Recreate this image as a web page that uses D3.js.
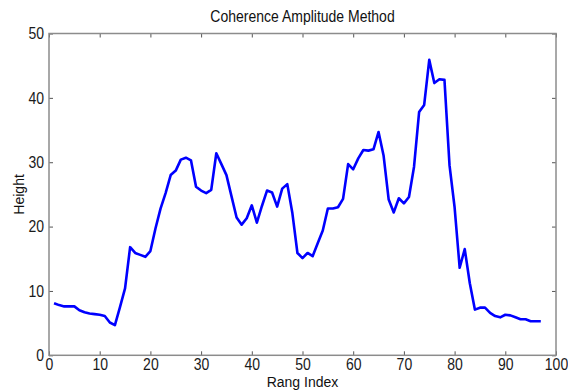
<!DOCTYPE html>
<html><head><meta charset="utf-8">
<script src="https://cdn.jsdelivr.net/npm/d3@7"></script>
<style>body{margin:0;background:#fff}svg{display:block}</style>
</head><body>
<script>
const title = "Coherence Amplitude Method";
const xLabel = "Rang Index";
const yLabel = "Height";
const xTicks = [0,10,20,30,40,50,60,70,80,90,100];
const yTicks = [0,10,20,30,40,50];
const index = d3.range(1, 98);
const height = [8.1,7.8,7.6,7.6,7.6,7.0,6.7,6.5,6.4,6.3,
6.1,5.1,4.7,7.5,10.4,16.8,15.9,15.6,15.3,16.2,
19.7,22.8,25.2,28.0,28.7,30.4,30.7,30.3,26.2,25.6,
25.2,25.7,31.4,29.7,28.0,24.7,21.4,20.3,21.3,23.3,
20.6,23.2,25.6,25.3,23.1,25.9,26.6,22.1,15.9,15.1,
15.9,15.4,17.4,19.4,22.8,22.8,23.0,24.3,29.7,28.9,
30.6,31.9,31.8,32.0,34.7,31.0,24.2,22.2,24.4,23.6,
24.6,29.3,37.8,38.9,45.9,42.3,42.9,42.8,29.5,23.0,
13.6,16.5,11.2,7.1,7.4,7.4,6.6,6.1,5.9,6.3,
6.2,5.9,5.6,5.6,5.3,5.3,5.3];

const W = 568, H = 391;
const m = {left:49, right:12, top:33.5, bottom:35.7};
const svg = d3.select("body").append("svg").attr("width", W).attr("height", H);
const x = d3.scaleLinear().domain([0,100]).range([m.left, W - m.right]);
const y = d3.scaleLinear().domain([0,50]).range([H - m.bottom, m.top]);

const axisColor = "#8c8c8c";
const font = "Liberation Sans, Arial, sans-serif";
const stretch = 1.15;

function style(g){
  g.select(".domain").remove();
  g.selectAll(".tick line").attr("stroke", "#555").attr("stroke-width", 1);
  g.selectAll(".tick text").attr("fill", "#1a1a1a").attr("font-size", 14).attr("font-family", font)
    .attr("transform", `scale(1,${stretch})`);
}
// bottom
svg.append("g").attr("transform", `translate(0,${y(0)})`)
  .call(d3.axisBottom(x).tickValues(xTicks).tickSize(-4).tickPadding(3).tickFormat(d3.format("d")))
  .call(style);
// top
svg.append("g").attr("transform", `translate(0,${y(50)})`)
  .call(d3.axisTop(x).tickValues(xTicks).tickSize(-4).tickFormat(""))
  .call(style);
// left
svg.append("g").attr("transform", `translate(${x(0)},0)`)
  .call(d3.axisLeft(y).tickValues(yTicks).tickSize(-4).tickPadding(5).tickFormat(d3.format("d")))
  .call(style);
// right
svg.append("g").attr("transform", `translate(${x(100)},0)`)
  .call(d3.axisRight(y).tickValues(yTicks).tickSize(-4).tickFormat(""))
  .call(style);

svg.append("rect").attr("x", x(0)).attr("y", y(50))
  .attr("width", x(100) - x(0)).attr("height", y(0) - y(50))
  .attr("fill", "none").attr("stroke", axisColor).attr("stroke-width", 1.5);

const line = d3.line().x((d,i) => x(index[i])).y(d => y(d));
svg.append("path").datum(height).attr("d", line)
  .attr("fill", "none").attr("stroke", "#0000ff").attr("stroke-width", 2.6)
  .attr("stroke-linejoin", "round");

svg.append("text").attr("transform", `translate(${(x(0)+x(100))/2},22) scale(1,${stretch})`).attr("text-anchor", "middle")
  .attr("font-family", font).attr("font-size", 14).attr("fill", "#111").text(title);
svg.append("text").attr("x", (x(0)+x(100))/2).attr("y", 387).attr("text-anchor", "middle")
  .attr("font-family", font).attr("font-size", 14).attr("fill", "#111").text(xLabel);
svg.append("text").attr("transform", `translate(24,${(y(0)+y(50))/2}) rotate(-90)`).attr("text-anchor", "middle")
  .attr("font-family", font).attr("font-size", 14).attr("fill", "#111").text(yLabel);
</script>
</body></html>
